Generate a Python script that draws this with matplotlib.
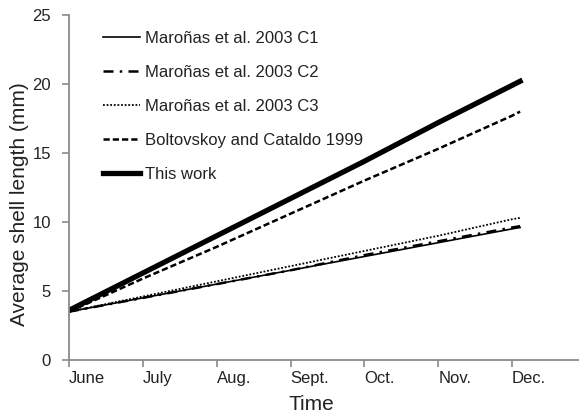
import matplotlib
matplotlib.use('Agg')
import matplotlib.pyplot as plt

plt.rcParams['font.family'] = ['Liberation Sans', 'DejaVu Sans']

months = ['June', 'July', 'Aug.', 'Sept.', 'Oct.', 'Nov.', 'Dec.']
month_pos = [0, 1, 2, 3, 4, 5, 6]
t = [0, 1, 2, 3, 4, 5, 6, 6.11]
c1 = [3.5, 4.5, 5.5, 6.5, 7.5, 8.5, 9.5, 9.6]
c2 = [3.5, 4.5, 5.5, 6.5, 7.6, 8.6, 9.6, 9.7]
c3 = [3.5, 4.6, 5.7, 6.8, 7.9, 9.0, 10.2, 10.3]
bolt = [3.5, 5.9, 8.2, 10.6, 13.0, 15.3, 17.7, 18.0]
this_work = [3.6, 6.3, 9.0, 11.7, 14.4, 17.2, 19.9, 20.2]
yticks = [0, 5, 10, 15, 20, 25]

W, H = 579, 416
x0, y0, ytop = 69, 360, 15
fig = plt.figure(figsize=(W/100, H/100), dpi=100)
ax = fig.add_axes([x0/W, 1-y0/H, 1-x0/W, (y0-ytop)/H])

ax.plot(t, c1, color='black', lw=1.2, ls='-', label='Maroñas et al. 2003 C1')
ax.plot(t, c2, color='black', lw=1.8, ls=(0, (4, 2.5, 1, 2.5)), label='Maroñas et al. 2003 C2')
ax.plot(t, c3, color='black', lw=1.3, ls=(0, (1, 1)), label='Maroñas et al. 2003 C3')
ax.plot(t, bolt, color='black', lw=1.8, ls=(0, (2.5, 1.2)), label='Boltovskoy and Cataldo 1999')
ax.plot(t, this_work, color='black', lw=3.8, ls='-', label='This work')

px_per_month = (512 - x0) / 6
ax.set_xlim(0, (W - x0) / px_per_month)
ax.set_ylim(0, 25)
ax.set_xticks(month_pos)
ax.set_xticklabels(months, ha='left')
ax.set_yticks(yticks)

for s in ['top', 'right']:
    ax.spines[s].set_visible(False)
for s in ['left', 'bottom']:
    ax.spines[s].set_color('#8a8a8a')
    ax.spines[s].set_linewidth(1.3)
ax.tick_params(axis='both', direction='out', length=5, width=1.2, color='#8a8a8a',
               labelsize=12, labelcolor='#222222')
ax.tick_params(axis='x', pad=3)
ax.tick_params(axis='y', pad=8)

fig.text(311/W, 1-404/H, 'Time', ha='center', va='center', fontsize=15, color='#222222')
fig.text(20/W, 1-204/H, 'Average shell length (mm)', ha='center', va='center',
         rotation=90, fontsize=15, color='#222222')

leg = ax.legend(loc='upper left', bbox_to_anchor=((96.3-x0)/(W-x0), (y0-24)/(y0-ytop)),
                frameon=False, fontsize=12, handlelength=2.2, handletextpad=0.3,
                labelspacing=1.15, borderaxespad=0)
for txt in leg.get_texts():
    txt.set_color('#222222')

fig.savefig('out.png', dpi=100)
